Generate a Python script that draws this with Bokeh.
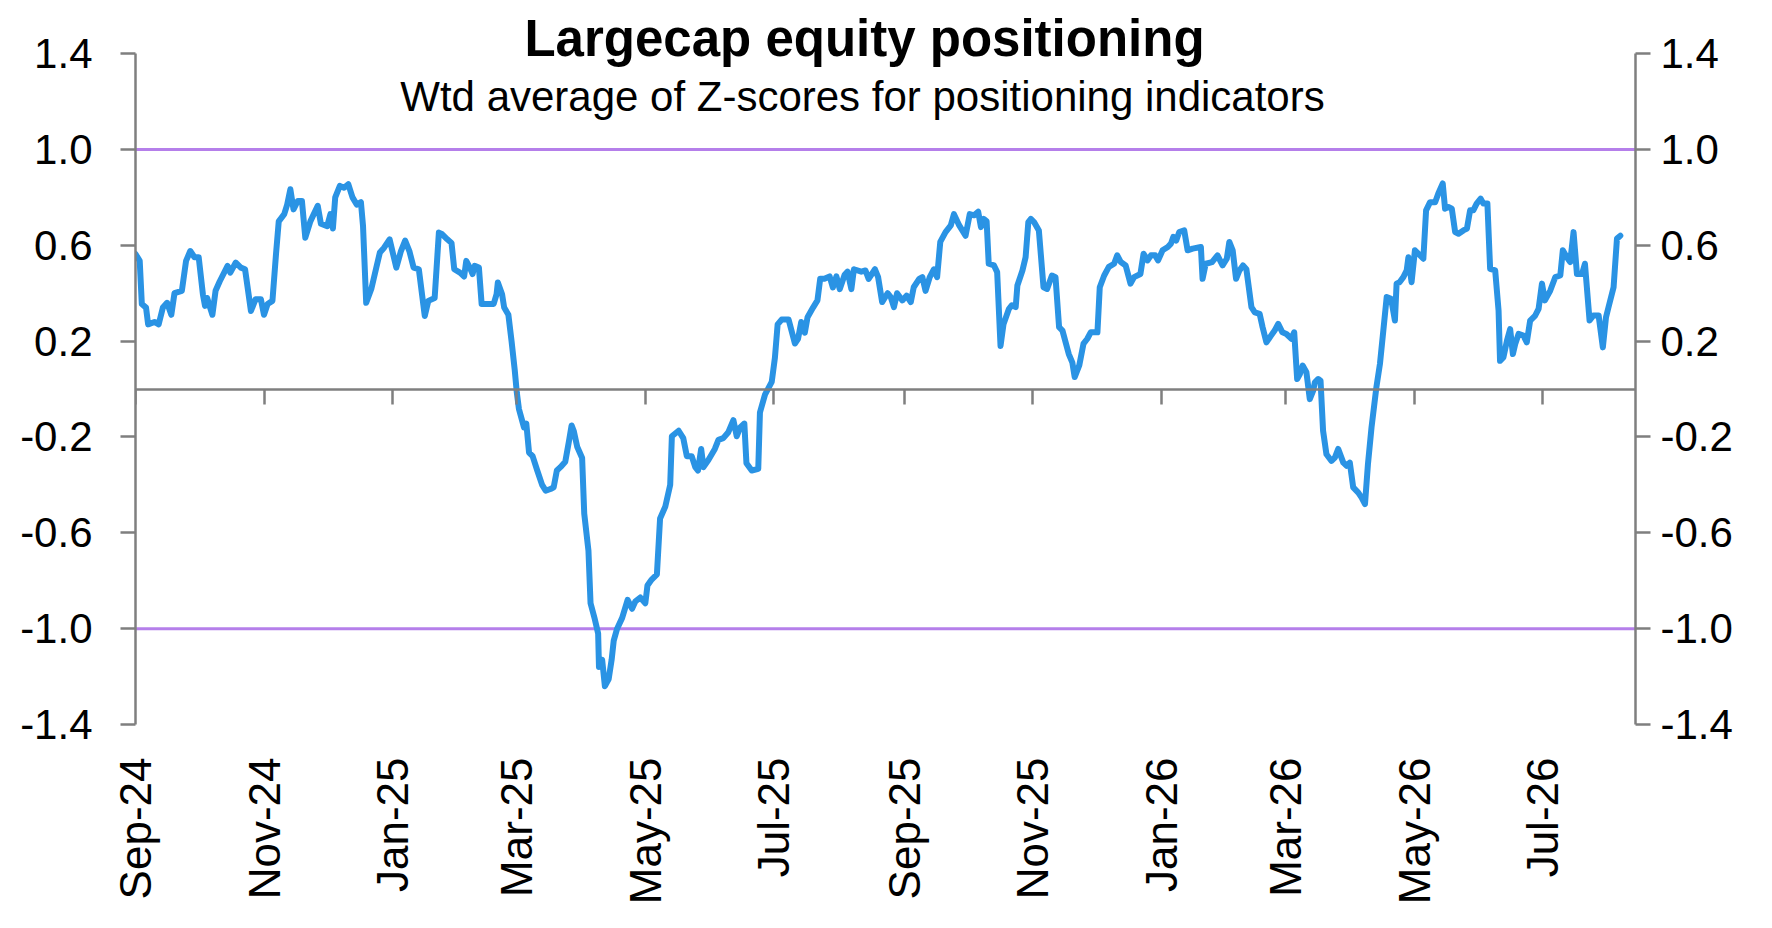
import math
import pandas as pd
from bokeh.plotting import figure
from bokeh.models import (DatetimeAxis, LinearAxis, FixedTicker, NumeralTickFormatter,
                          DatetimeTickFormatter, Span, Label, Range1d, ColumnDataSource)
from bokeh.embed import file_html
from bokeh.resources import INLINE

# ---------------- data ----------------
title_text = "Largecap equity positioning"
subtitle_text = "Wtd average of Z-scores for positioning indicators"

start_date = "2024-09-01"
end_date = "2026-08-14"

day_offset = [
    0, 2, 3, 5, 6, 9, 11, 13, 15, 17, 18.5, 22, 24, 26, 28, 30, 32, 33, 34, 36.5,
    38, 40, 43.7, 45, 47.6, 50, 52, 54.8, 57, 59.5, 61, 62.7, 65, 66.7, 68, 70.6,
    72, 73.5, 75, 77, 79, 80.6, 83, 86.5, 88, 91, 92.5, 93.7, 94.8, 97, 99, 101,
    103, 105, 107, 108, 109.5, 112, 114.3, 116, 118, 120.6, 123.8, 126, 128, 130,
    132, 134.5, 137.3, 139, 142, 144, 145.6, 148, 150, 151.3, 154, 156, 157, 158.7,
    160, 161, 163, 164.3, 166.7, 170, 171.4, 172, 174, 175, 177,
    178.5, 180, 181, 182, 184.4, 185.5, 186.8, 188.5, 190.7, 193, 194.7, 197, 198.5,
    200, 201.7, 204, 205.7, 207, 208, 209.7, 212, 213, 215, 216, 218, 219.6, 220,
    221.5, 222.8, 224.6, 226, 227, 228.6, 231, 233.6, 235.7, 237.3, 239.6, 242, 243,
    245, 247.5, 249, 251.5, 253.8, 254.6, 257.8, 260, 261.7, 264, 265.7, 267, 268.5,
    269.6, 272, 275, 276.7, 279, 281.4, 283.8, 285.4, 287, 289, 290, 292.5, 295.6,
    296.4, 298.8, 302, 303.5, 304.8, 306.7, 310, 313, 314.5, 316, 317.7, 319, 321.6,
    323.7, 325, 327, 329.5, 331, 332.7, 334.3, 336.6, 338, 339.8, 341, 344.5,
    346.5, 348, 351, 352.5, 354.4, 357, 358.5, 360, 361.5, 364, 366, 368, 369.4, 372,
    373.5, 375, 377, 379, 380.5, 382, 384.5, 387, 388.5, 391, 394, 396, 398, 400,
    401.3, 402.7, 404, 405, 407.5, 409, 410.6, 412, 414.6, 416, 417.8, 418.6, 421,
    422.5, 423.8, 425, 426.5, 428.8, 431, 432.7, 435, 436.7, 438.4, 440, 443, 444.7,
    445.8, 448, 450, 451.8, 453.4, 456.6, 457.7, 459.8, 462, 464.5, 466, 467.7, 470,
    472.3, 474, 477, 478.5, 480.4, 482, 484, 485.4, 487.5, 490, 491.5, 492.6, 494,
    495.4, 497.8, 499.4, 501.8, 505.7, 506.5, 508, 511, 513.6, 516, 518, 519.2, 520.8,
    522.4, 524,
    525.7, 527.3, 529.7, 531.3, 533.6, 535, 536.8, 539, 540.7, 542.4, 544.4, 546.3,
    548.7, 550, 551.4, 552.7, 554, 555.8, 557.4, 559, 559.8, 561.4, 562.5, 563.7,
    565.3, 567.7, 569.3, 570.9, 573.3, 574.9, 576.4, 578, 580.4, 582, 583.6, 585,
    586.7, 589, 590.7, 592.3, 593.9, 596, 597.8, 598.6, 600, 601.8, 603.4, 604.2,
    605.7, 607.3, 608.9, 611.3, 612.6, 614.5, 616.9, 618.4, 620.5, 621.6, 623.2,
    624.8, 626.4, 628, 630.3, 632, 633.5, 635, 636.6, 638.5, 639.8, 641.7, 643, 645.4,
    647, 647.7, 649.3, 651, 652.5, 653.8, 654.9, 656.5, 658.8, 660.4, 662, 664.4, 666,
    667.6, 669, 671.5, 673.9, 676.3, 677.5, 679.4, 681, 682.6, 684.2, 686.6, 688,
    690.2, 692, 694.5, 696.5, 698, 699.2, 701.6, 703.2, 704.8,
]

z_score = [
    0.564, 0.535, 0.355, 0.34, 0.27, 0.28, 0.27, 0.34, 0.36, 0.31, 0.40, 0.41, 0.535, 0.576, 0.55, 0.55, 0.395, 0.347, 0.38, 0.31,
    0.41, 0.45, 0.514, 0.486, 0.528, 0.507, 0.50, 0.326, 0.375, 0.375, 0.31, 0.355, 0.368, 0.564, 0.70, 0.73,
    0.77, 0.834, 0.75, 0.785, 0.785, 0.632, 0.70, 0.765, 0.69, 0.68, 0.73, 0.67, 0.80, 0.848, 0.84, 0.855,
    0.80, 0.77, 0.78, 0.68, 0.36, 0.42, 0.507, 0.57, 0.59, 0.625, 0.507, 0.576, 0.62, 0.576,
    0.507, 0.50, 0.305, 0.368, 0.38, 0.653, 0.646, 0.625, 0.61, 0.50, 0.486, 0.47, 0.535, 0.507,
    0.48, 0.514, 0.507, 0.355, 0.355, 0.355, 0.396, 0.445, 0.396, 0.34, 0.31,
    0.20, 0.08, -0.015, -0.083, -0.16, -0.144, -0.265, -0.28, -0.34, -0.40, -0.424, -0.417, -0.41,
    -0.34, -0.326, -0.303, -0.22, -0.152, -0.174, -0.242, -0.288, -0.52, -0.674, -0.894, -0.96, -1.02, -1.16,
    -1.13, -1.24, -1.21, -1.13, -1.05, -1.0, -0.955, -0.88, -0.917, -0.886, -0.87, -0.894, -0.82,
    -0.795, -0.773, -0.54, -0.49, -0.40, -0.197, -0.174, -0.205, -0.28, -0.28, -0.326, -0.34, -0.25,
    -0.326, -0.295, -0.25, -0.212, -0.205, -0.18, -0.13, -0.197, -0.16, -0.144, -0.31, -0.34, -0.333,
    -0.098, -0.023, 0.03, 0.13, 0.27, 0.29, 0.29, 0.19, 0.21, 0.28, 0.235, 0.30, 0.34,
    0.37, 0.46, 0.46, 0.47, 0.424, 0.47, 0.417, 0.477, 0.49, 0.417, 0.50, 0.49,
    0.495, 0.46, 0.50, 0.467, 0.363, 0.40, 0.384, 0.342, 0.40, 0.37, 0.39, 0.363, 0.425, 0.46,
    0.467, 0.41, 0.467, 0.50, 0.467, 0.614, 0.655, 0.683, 0.73, 0.683, 0.64, 0.73, 0.725, 0.74,
    0.676, 0.71, 0.70, 0.523, 0.516, 0.488, 0.18, 0.27, 0.335, 0.35, 0.342, 0.432, 0.495,
    0.55, 0.697, 0.71, 0.697, 0.662, 0.425, 0.418, 0.474, 0.467, 0.258, 0.244, 0.146, 0.11,
    0.05, 0.10, 0.19, 0.21, 0.237, 0.237, 0.425, 0.474, 0.51, 0.523, 0.558, 0.53, 0.516,
    0.44, 0.467, 0.48, 0.565, 0.537, 0.558, 0.558, 0.537, 0.579, 0.593, 0.607, 0.635, 0.62,
    0.655, 0.662, 0.579, 0.586, 0.593, 0.46, 0.523, 0.53, 0.558, 0.516, 0.544, 0.614, 0.579,
    0.46, 0.495,
    0.516, 0.50, 0.342, 0.32, 0.314, 0.258, 0.195, 0.223, 0.244, 0.272, 0.237, 0.23,
    0.21, 0.237, 0.042, 0.063, 0.098, 0.07, -0.042, -0.007, 0.028, 0.042, 0.035, -0.174,
    -0.272, -0.30, -0.286, -0.25, -0.307, -0.32, -0.307, -0.41, -0.432, -0.453, -0.48, -0.314,
    -0.16, 0.007, 0.105, 0.244, 0.384, 0.377, 0.286, 0.44, 0.446, 0.467, 0.495, 0.55,
    0.446, 0.579, 0.565, 0.544, 0.746, 0.78, 0.78, 0.816, 0.858, 0.753, 0.76,
    0.753, 0.655, 0.648, 0.662, 0.67, 0.746, 0.746, 0.774, 0.795, 0.774, 0.774, 0.502, 0.495,
    0.328, 0.118, 0.132, 0.202, 0.25, 0.146, 0.188, 0.23, 0.223, 0.195, 0.286, 0.307, 0.335,
    0.44, 0.37, 0.41, 0.467, 0.474, 0.579, 0.55, 0.53, 0.655, 0.48, 0.48, 0.523,
    0.286, 0.307, 0.307, 0.174, 0.30, 0.342, 0.425, 0.628, 0.64,
]

x_tick_dates = ["2024-09-01", "2024-11-01", "2025-01-01", "2025-03-01", "2025-05-01",
                "2025-07-01", "2025-09-01", "2025-11-01", "2026-01-01", "2026-03-01",
                "2026-05-01", "2026-07-01"]
x_tick_labels = ["Sep-24", "Nov-24", "Jan-25", "Mar-25", "May-25", "Jul-25",
                 "Sep-25", "Nov-25", "Jan-26", "Mar-26", "May-26", "Jul-26"]
y_ticks = [-1.4, -1.0, -0.6, -0.2, 0.2, 0.6, 1.0, 1.4]
y_axis_bounds = (-1.4, 1.4)
threshold_levels = [1.0, -1.0]

# ---------------- styles ----------------
FONT = "Liberation Sans"
LINE_BLUE = "#2A93E4"
PURPLE = "#B57FEA"
AXIS_GRAY = "#7F7F7F"

dates = pd.Timestamp(start_date) + pd.to_timedelta(day_offset, unit="D")
source = ColumnDataSource(data=dict(date=dates, z=z_score))

tick_ms = [int((pd.Timestamp(d) - pd.Timestamp("1970-01-01")) // pd.Timedelta("1ms"))
           for d in x_tick_dates]
label_overrides = {ms: lab for ms, lab in zip(tick_ms, x_tick_labels)}

# the frame extends above the 1.4 tick so that the title sits inside it
p = figure(width=1756, height=912, output_backend="svg", toolbar_location=None,
           x_axis_location=None, y_axis_location=None,
           x_range=Range1d(pd.Timestamp(start_date), pd.Timestamp(end_date)),
           y_range=Range1d(-1.4, 1.58),
           min_border_left=135, min_border_right=121, min_border_top=10,
           min_border_bottom=188)
p.outline_line_color = None
p.grid.visible = False
p.background_fill_color = "white"
p.border_fill_color = "white"

# threshold lines
for lvl in threshold_levels:
    p.add_layout(Span(location=lvl, dimension="width", line_color=PURPLE,
                      line_width=3, level="underlay"))

p.line("date", "z", source=source, line_color=LINE_BLUE, line_width=6,
       line_join="round", line_cap="round")

fmt_str = "%b-%y"
dt_fmt = DatetimeTickFormatter(microseconds=fmt_str, milliseconds=fmt_str, seconds=fmt_str,
                               minsec=fmt_str, minutes=fmt_str, hourmin=fmt_str,
                               hours=fmt_str, days=fmt_str, months=fmt_str, years=fmt_str)

# x labels axis at the bottom (labels only), text reading bottom-to-top
label_axis = DatetimeAxis(ticker=FixedTicker(ticks=tick_ms), formatter=dt_fmt,
                          major_label_overrides=label_overrides,
                          axis_line_color=None, major_tick_line_color=None,
                          minor_tick_line_color=None, major_tick_out=0, major_tick_in=0,
                          major_label_orientation=math.pi / 2, major_label_standoff=33,
                          major_label_text_font=FONT, major_label_text_font_size="44px",
                          major_label_text_color="black")
p.add_layout(label_axis, "below")

# zero line axis with ticks (no labels)
zero_axis = DatetimeAxis(ticker=FixedTicker(ticks=tick_ms), formatter=dt_fmt,
                         fixed_location=0,
                         axis_line_color=AXIS_GRAY, axis_line_width=2.5,
                         major_tick_line_color=AXIS_GRAY, major_tick_line_width=2.5,
                         minor_tick_line_color=None, major_tick_out=15, major_tick_in=0,
                         major_label_text_color=None, major_label_standoff=0)
p.add_layout(zero_axis, "below")

def make_y_axis(standoff):
    return LinearAxis(ticker=FixedTicker(ticks=y_ticks), bounds=y_axis_bounds,
                      formatter=NumeralTickFormatter(format="0.0"),
                      axis_line_color=AXIS_GRAY, axis_line_width=2.5,
                      major_tick_line_color=AXIS_GRAY, major_tick_line_width=2.5,
                      minor_tick_line_color=None, major_tick_out=15, major_tick_in=0,
                      major_label_standoff=standoff, major_label_text_font=FONT,
                      major_label_text_font_size="42px", major_label_text_color="black")

p.add_layout(make_y_axis(28), "left")
p.add_layout(make_y_axis(10), "right")

p.add_layout(Label(x=729, y=686, x_units="screen", y_units="screen", text=title_text,
                   text_align="center", text_baseline="alphabetic", text_font=FONT,
                   text_font_size="51px", text_font_style="bold", text_color="black"))
p.add_layout(Label(x=727, y=628, x_units="screen", y_units="screen", text=subtitle_text,
                   text_align="center", text_baseline="alphabetic", text_font=FONT,
                   text_font_size="42px", text_color="black"))

open("out.html", "w").write(file_html(p, INLINE))
